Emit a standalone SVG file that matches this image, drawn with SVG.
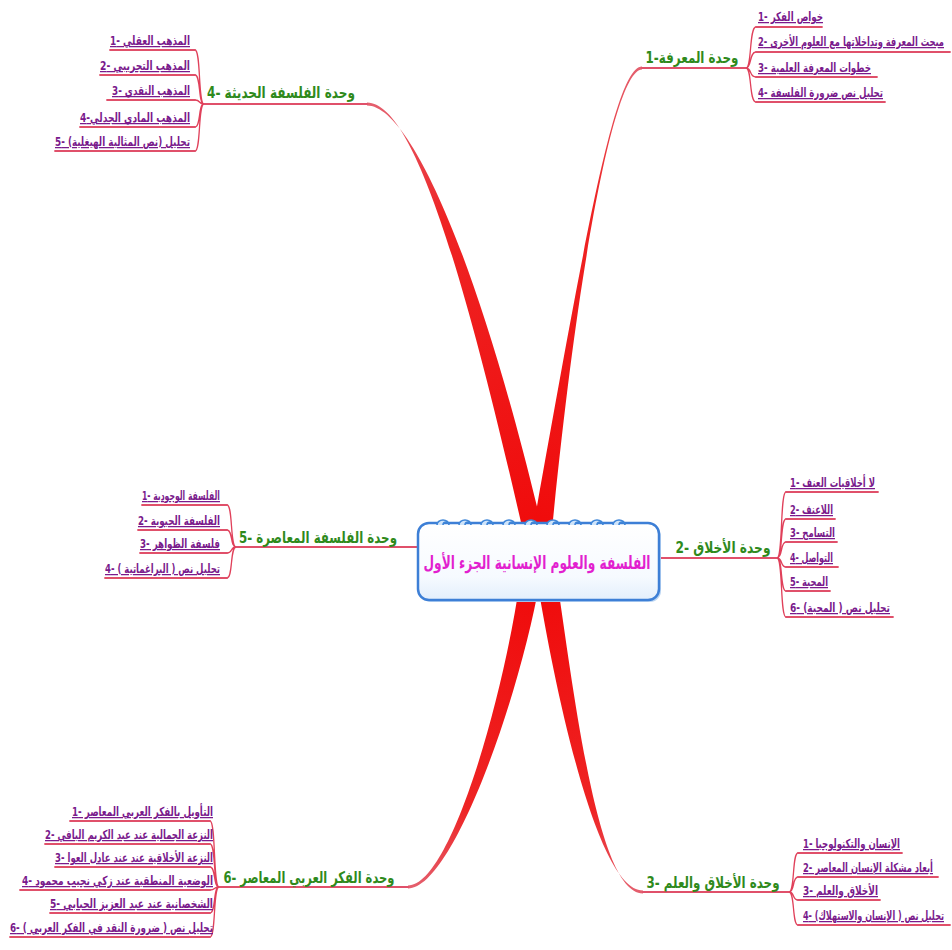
<svg xmlns="http://www.w3.org/2000/svg" width="952" height="950" viewBox="0 0 952 950">
<defs>
<style>
.br{font-family:"DejaVu Sans",sans-serif;font-weight:bold;font-size:16px;fill:#2f8a1c}
.it{font-family:"DejaVu Sans",sans-serif;font-weight:bold;font-size:12.5px;fill:#7a1a8c;text-decoration:underline}
.ct{font-family:"DejaVu Sans",sans-serif;font-weight:bold;font-size:18px;fill:#e21fcf}
.ul{stroke:#e0506a;stroke-width:1.8;fill:none;stroke-linecap:round}
.bk{stroke:#e0405a;stroke-width:1.3;fill:none}
.loop{stroke:#3f86d8;stroke-width:1.6;fill:#cfe4fa}
</style>
<linearGradient id="gTL" gradientUnits="userSpaceOnUse" x1="367" y1="104" x2="535" y2="520"><stop offset="0" stop-color="#e4606f"/><stop offset="0.3" stop-color="#ee2424"/><stop offset="1" stop-color="#f00c0c"/></linearGradient>
<linearGradient id="gTR" gradientUnits="userSpaceOnUse" x1="642" y1="68" x2="543" y2="520"><stop offset="0" stop-color="#e4606f"/><stop offset="0.3" stop-color="#ee2424"/><stop offset="1" stop-color="#f00c0c"/></linearGradient>
<linearGradient id="gBL" gradientUnits="userSpaceOnUse" x1="408" y1="887" x2="530" y2="600"><stop offset="0" stop-color="#e4606f"/><stop offset="0.3" stop-color="#ee2424"/><stop offset="1" stop-color="#f00c0c"/></linearGradient>
<linearGradient id="gBR" gradientUnits="userSpaceOnUse" x1="643" y1="892" x2="547" y2="600"><stop offset="0" stop-color="#e4606f"/><stop offset="0.3" stop-color="#ee2424"/><stop offset="1" stop-color="#f00c0c"/></linearGradient>
<linearGradient id="gNode" x1="0" y1="0" x2="0" y2="1"><stop offset="0" stop-color="#ffffff"/><stop offset="0.7" stop-color="#f6faff"/><stop offset="1" stop-color="#e3effc"/></linearGradient>
</defs>
<rect width="952" height="950" fill="#ffffff"/>

<g id="connectors">
  <path d="M367 102.5 C412 102.5 462 262 525 540 L545 540 C479 258 410 105.5 367 105.5 Z" fill="url(#gTL)"/>
  <path d="M642 66.5 C614 66.5 583 250 531 540 L551 540 C579 250 616 69.5 642 69.5 Z" fill="url(#gTR)"/>
  <path d="M520 580 C503 700 450 885.5 408 885.5 L408 888.5 C452 888.5 519 700 540 580 Z" fill="url(#gBL)"/>
  <path d="M537 580 C557 700 598 890.5 643 890.5 L643 893.5 C598 893.5 575 700 557 580 Z" fill="url(#gBR)"/>
  <path class="ul" d="M642 68 H746"/>
  <path class="ul" d="M660 558 H777"/>
  <path class="ul" d="M643 892 H789"/>
  <path class="ul" d="M367 104 H204"/>
  <path class="ul" d="M419 547 H236"/>
  <path class="ul" d="M408 887 H219"/>
  <path class="bk" d="M746 68 C752 68 749 27 756 27 M746 68 C752 68 749 52 756 52 M746 68 C752 68 749 77 756 77 M746 68 C752 68 749 102 756 102"/>
  <path class="ul" d="M756 27 H822 M756 52 H950 M756 77 H877 M756 102 H885"/>
  <path class="bk" d="M204 104 C198 104 201 50 195 50 M204 104 C198 104 201 75 195 75 M204 104 C198 104 201 100 195 100 M204 104 C198 104 201 127 195 127 M204 104 C198 104 201 151 195 151"/>
  <path class="ul" d="M195 50 H110 M195 75 H100 M195 100 H107 M195 127 H80 M195 151 H55"/>
  <path class="bk" d="M236 547 C230 547 233 505 227 505 M236 547 C230 547 233 530 227 530 M236 547 C230 547 233 553 227 553 M236 547 C230 547 233 578 227 578"/>
  <path class="ul" d="M227 505 H142 M227 530 H138 M227 553 H140 M227 578 H105"/>
  <path class="bk" d="M777 558 C783 558 780 492 786 492 M777 558 C783 558 780 519 786 519 M777 558 C783 558 780 542 786 542 M777 558 C783 558 780 567 786 567 M777 558 C783 558 780 591 786 591 M777 558 C783 558 780 617 786 617"/>
  <path class="ul" d="M786 492 H878 M786 519 H835 M786 542 H837 M786 567 H838 M786 591 H830 M786 617 H893"/>
  <path class="bk" d="M219 887 C213 887 216 821 210 821 M219 887 C213 887 216 844 210 844 M219 887 C213 887 216 867 210 867 M219 887 C213 887 216 890 210 890 M219 887 C213 887 216 913 210 913 M219 887 C213 887 216 937 210 937"/>
  <path class="ul" d="M210 821 H70 M210 844 H45 M210 867 H55 M210 890 H20 M210 913 H50 M210 937 H10"/>
  <path class="bk" d="M789 892 C795 892 792 853 798 853 M789 892 C795 892 792 877 798 877 M789 892 C795 892 792 900 798 900 M789 892 C795 892 792 925 798 925"/>
  <path class="ul" d="M798 853 H902 M798 877 H938 M798 900 H880 M798 925 H950"/>
</g>

<g id="center">
  <rect x="420" y="525" width="241" height="77" rx="11" fill="#bcd6f3"/>
  <rect x="418" y="523" width="241" height="77" rx="11" fill="url(#gNode)" stroke="#3d7fd6" stroke-width="2.5"/>
  <g class="loops">
    <path class="loop" d="M437 525 a6 5 0 0 1 12 0 a3 3 0 0 0 -6 0"/>
    <path class="loop" d="M459 525 a6 5 0 0 1 12 0 a3 3 0 0 0 -6 0"/>
    <path class="loop" d="M481 525 a6 5 0 0 1 12 0 a3 3 0 0 0 -6 0"/>
    <path class="loop" d="M503 525 a6 5 0 0 1 12 0 a3 3 0 0 0 -6 0"/>
    <path class="loop" d="M525 525 a6 5 0 0 1 12 0 a3 3 0 0 0 -6 0"/>
    <path class="loop" d="M547 525 a6 5 0 0 1 12 0 a3 3 0 0 0 -6 0"/>
    <path class="loop" d="M569 525 a6 5 0 0 1 12 0 a3 3 0 0 0 -6 0"/>
    <path class="loop" d="M591 525 a6 5 0 0 1 12 0 a3 3 0 0 0 -6 0"/>
    <path class="loop" d="M613 525 a6 5 0 0 1 12 0 a3 3 0 0 0 -6 0"/>
  </g>
  <text class="ct" x="537" y="569" text-anchor="middle" textLength="227" lengthAdjust="spacingAndGlyphs">الفلسفة والعلوم الإنسانية الجزء الأول</text>
</g>

<g id="branch1">
  <text class="br" x="692" y="63" text-anchor="middle" textLength="93" lengthAdjust="spacingAndGlyphs">وحدة المعرفة-1</text>
</g>
<g id="branch1-items">
  <text class="it" x="758" y="21" textLength="65" lengthAdjust="spacingAndGlyphs">خواص الفكر -1</text>
  <text class="it" x="758" y="46" textLength="186" lengthAdjust="spacingAndGlyphs">مبحث المعرفة وتداخلاتها مع العلوم الأخرى -2</text>
  <text class="it" x="758" y="72" textLength="113" lengthAdjust="spacingAndGlyphs">خطوات المعرفة العلمية -3</text>
  <text class="it" x="758" y="97" textLength="125" lengthAdjust="spacingAndGlyphs">تحليل نص ضرورة الفلسفة -4</text>
</g>

<g id="branch2">
  <text class="br" x="723" y="553" text-anchor="middle" textLength="95" lengthAdjust="spacingAndGlyphs">وحدة الأخلاق -2</text>
</g>
<g id="branch2-items">
  <text class="it" x="790" y="487" textLength="85" lengthAdjust="spacingAndGlyphs">لا أخلاقيات العنف -1</text>
  <text class="it" x="790" y="514" textLength="43" lengthAdjust="spacingAndGlyphs">اللاعنف -2</text>
  <text class="it" x="790" y="537" textLength="45" lengthAdjust="spacingAndGlyphs">التسامح -3</text>
  <text class="it" x="790" y="562" textLength="43" lengthAdjust="spacingAndGlyphs">التواصل -4</text>
  <text class="it" x="790" y="586" textLength="38" lengthAdjust="spacingAndGlyphs">المحبة -5</text>
  <text class="it" x="790" y="612" textLength="100" lengthAdjust="spacingAndGlyphs">تحليل نص ( المحبة) -6</text>
</g>

<g id="branch3">
  <text class="br" x="713" y="888" text-anchor="middle" textLength="133" lengthAdjust="spacingAndGlyphs">وحدة الأخلاق والعلم -3</text>
</g>
<g id="branch3-items">
  <text class="it" x="803" y="848" textLength="97" lengthAdjust="spacingAndGlyphs">الإنسان والتكنولوجيا -1</text>
  <text class="it" x="803" y="872" textLength="130" lengthAdjust="spacingAndGlyphs">أبعاد مشكلة الإنسان المعاصر -2</text>
  <text class="it" x="803" y="895" textLength="75" lengthAdjust="spacingAndGlyphs">الأخلاق والعلم -3</text>
  <text class="it" x="803" y="920" textLength="141" lengthAdjust="spacingAndGlyphs">تحليل نص ( الإنسان والاستهلاك) -4</text>
</g>

<g id="branch4">
  <text class="br" x="281" y="98" text-anchor="middle" textLength="148" lengthAdjust="spacingAndGlyphs">وحدة الفلسفة الحديثة -4</text>
</g>
<g id="branch4-items">
  <text class="it" x="190" y="45" text-anchor="end" textLength="80" lengthAdjust="spacingAndGlyphs">المذهب العقلي -1</text>
  <text class="it" x="190" y="70" text-anchor="end" textLength="90" lengthAdjust="spacingAndGlyphs">المذهب التجريبي -2</text>
  <text class="it" x="190" y="95" text-anchor="end" textLength="78" lengthAdjust="spacingAndGlyphs">المذهب النقدي -3</text>
  <text class="it" x="190" y="122" text-anchor="end" textLength="110" lengthAdjust="spacingAndGlyphs">المذهب المادي الجدلي-4</text>
  <text class="it" x="190" y="146" text-anchor="end" textLength="135" lengthAdjust="spacingAndGlyphs">تحليل (نص المثالية الهيغلية) -5</text>
</g>

<g id="branch5">
  <text class="br" x="318" y="543" text-anchor="middle" textLength="158" lengthAdjust="spacingAndGlyphs">وحدة الفلسفة المعاصرة -5</text>
</g>
<g id="branch5-items">
  <text class="it" x="220" y="500" text-anchor="end" textLength="78" lengthAdjust="spacingAndGlyphs">الفلسفة الوجودية -1</text>
  <text class="it" x="220" y="525" text-anchor="end" textLength="82" lengthAdjust="spacingAndGlyphs">الفلسفة الحيوية -2</text>
  <text class="it" x="220" y="548" text-anchor="end" textLength="80" lengthAdjust="spacingAndGlyphs">فلسفة الظواهر -3</text>
  <text class="it" x="220" y="573" text-anchor="end" textLength="115" lengthAdjust="spacingAndGlyphs">تحليل نص ( البراغماتية ) -4</text>
</g>

<g id="branch6">
  <text class="br" x="309" y="883" text-anchor="middle" textLength="171" lengthAdjust="spacingAndGlyphs">وحدة الفكر العربي المعاصر -6</text>
</g>
<g id="branch6-items">
  <text class="it" x="213" y="816" text-anchor="end" textLength="141" lengthAdjust="spacingAndGlyphs">التأويل بالفكر العربي المعاصر -1</text>
  <text class="it" x="213" y="839" text-anchor="end" textLength="168" lengthAdjust="spacingAndGlyphs">النزعة الجمالية عند عبد الكريم اليافي -2</text>
  <text class="it" x="213" y="862" text-anchor="end" textLength="158" lengthAdjust="spacingAndGlyphs">النزعة الأخلاقية عند عند عادل العوا -3</text>
  <text class="it" x="213" y="885" text-anchor="end" textLength="191" lengthAdjust="spacingAndGlyphs">الوضعية المنطقية عند زكي نجيب محمود -4</text>
  <text class="it" x="213" y="908" text-anchor="end" textLength="163" lengthAdjust="spacingAndGlyphs">الشخصانية عند عبد العزيز الحبابي -5</text>
  <text class="it" x="213" y="932" text-anchor="end" textLength="203" lengthAdjust="spacingAndGlyphs">تحليل نص ( ضرورة النقد في الفكر العربي ) -6</text>
</g>
</svg>
